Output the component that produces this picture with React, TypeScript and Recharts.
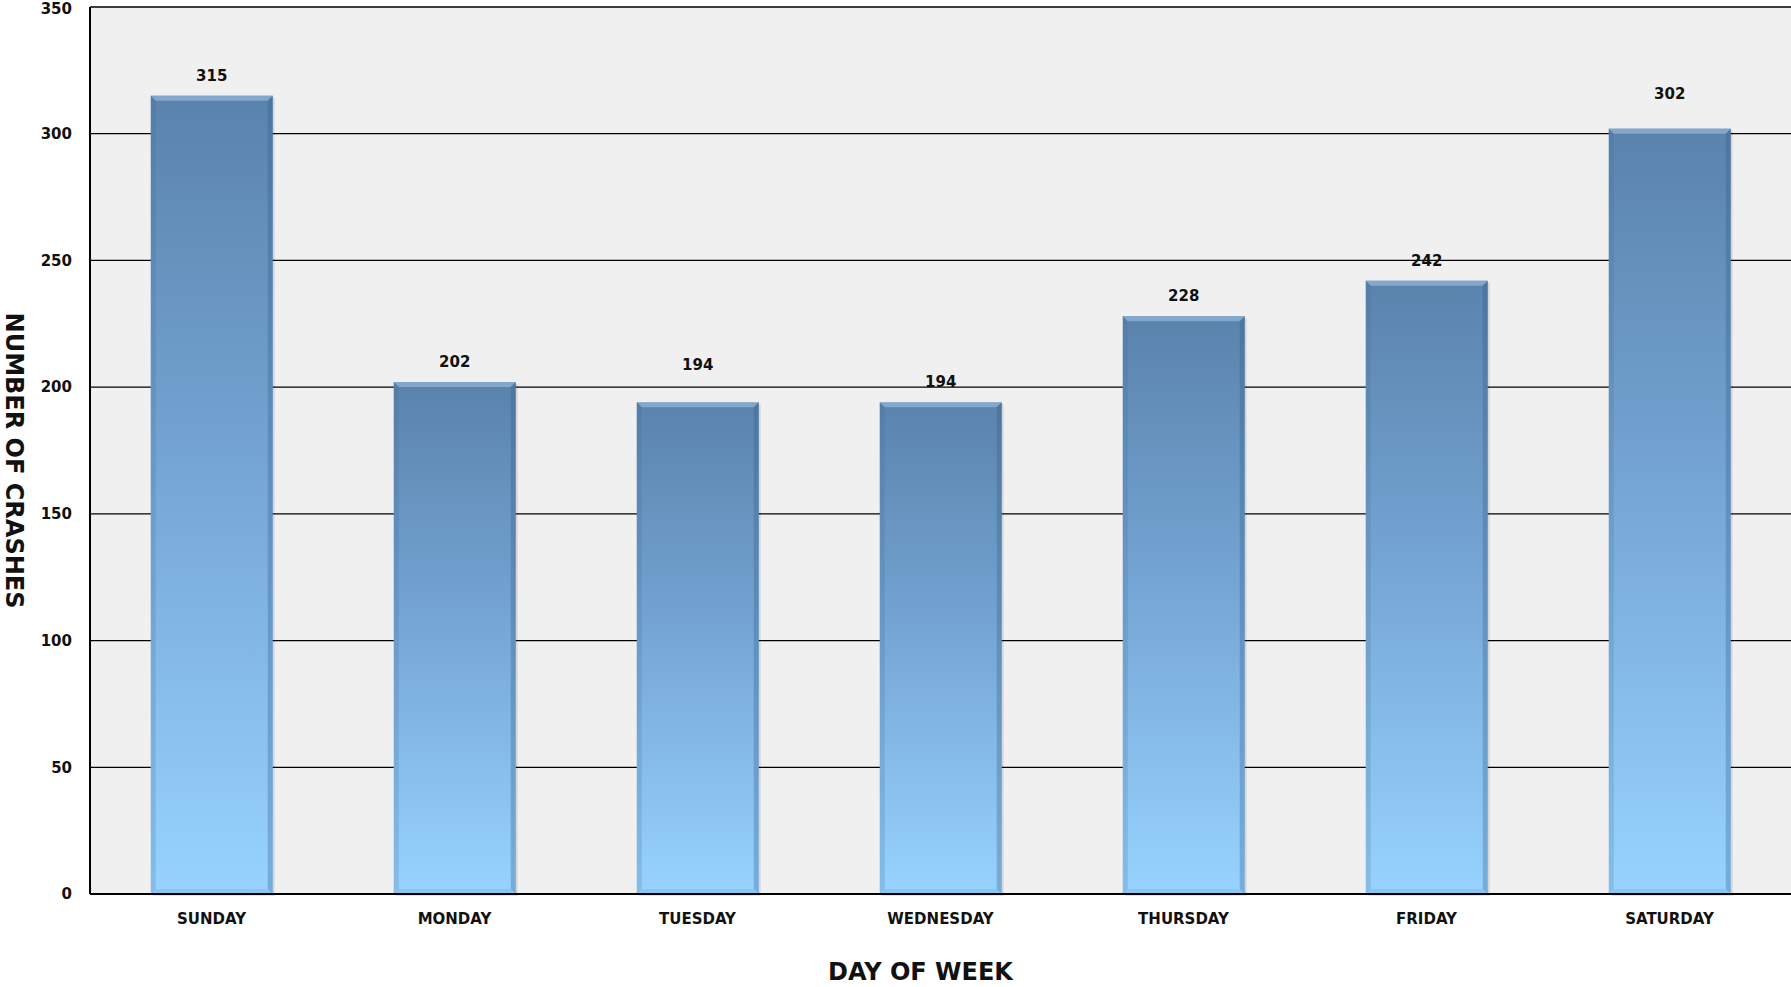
import React from "react";
import { BarChart, Bar, XAxis, YAxis, CartesianGrid, LabelList, Label } from "recharts";

const days = ["SUNDAY", "MONDAY", "TUESDAY", "WEDNESDAY", "THURSDAY", "FRIDAY", "SATURDAY"];
const crashes = [315, 202, 194, 194, 228, 242, 302];
const yTicks = [0, 50, 100, 150, 200, 250, 300, 350];

const data = days.map((day, i) => ({ day, crashes: crashes[i] }));

// excel placed a couple of the value labels higher than the rest
const labelLift = [0, 0, 17, 0, 0, 0, 15];

const FONT = "'DejaVu Sans', sans-serif";

// bar with a soft bevel, like the old office 3d style
function BevelBar(props: any) {
  const { x, y, width, height } = props;
  if (!height || height <= 0) return null;
  const b = 5;
  return (
    <g>
      <rect x={x + 2} y={y + 2} width={width} height={height} fill="#000" opacity={0.1} />
      <rect x={x} y={y} width={width} height={height} fill="url(#barFill)" />
      <polygon
        points={`${x},${y} ${x + width},${y} ${x + width - b},${y + b} ${x + b},${y + b}`}
        fill="#9dbfe0"
        opacity={0.6}
      />
      <polygon
        points={`${x},${y} ${x + b},${y + b} ${x + b},${y + height - b} ${x},${y + height}`}
        fill="#3d6a96"
        opacity={0.2}
      />
      <polygon
        points={`${x + width},${y} ${x + width - b},${y + b} ${x + width - b},${y + height - b} ${x + width},${y + height}`}
        fill="#2f5a85"
        opacity={0.3}
      />
      <polygon
        points={`${x},${y + height} ${x + b},${y + height - b} ${x + width - b},${y + height - b} ${x + width},${y + height}`}
        fill="#6aa8de"
        opacity={0.3}
      />
    </g>
  );
}

function ValueLabel(props: any) {
  const { x, y, width, value, index } = props;
  const lift = labelLift[index] || 0;
  return (
    <text
      x={x + width / 2}
      y={y - 15 - lift}
      textAnchor="middle"
      fill="#111"
      fontSize={15}
      fontWeight={700}
      fontFamily={FONT}
    >
      {value}
    </text>
  );
}

export default function App() {
  return (
    <div style={{ position: "absolute", left: 0, top: 0, background: "#fff" }}>
      <BarChart
        width={1791}
        height={987}
        data={data}
        margin={{ top: 7, right: 0, bottom: 0, left: 0 }}
        barCategoryGap="25%"
      >
        <defs>
          <linearGradient id="barFill" x1="0" y1="0" x2="0" y2="1">
            <stop offset="0%" stopColor="#5a83ac" />
            <stop offset="45%" stopColor="#74a4d3" />
            <stop offset="100%" stopColor="#97d3fe" />
          </linearGradient>
        </defs>
        <CartesianGrid vertical={false} stroke="#000" strokeWidth={1.3} fill="#f0f0f0" fillOpacity={1} />
        <XAxis
          dataKey="day"
          height={93}
          tickLine={false}
          axisLine={{ stroke: "#000", strokeWidth: 2 }}
          tickMargin={13}
          tick={{ fill: "#111", fontSize: 15, fontWeight: 700, fontFamily: FONT }}
          interval={0}
        >
          <Label
            content={(p: any) => {
              const vb = p.viewBox;
              return (
                <text
                  x={vb.x + vb.width / 2 - 20}
                  y={vb.y + vb.height - 7}
                  textAnchor="middle"
                  fontSize={24}
                  fontWeight={700}
                  fontFamily={FONT}
                  fill="#111"
                >
                  DAY OF WEEK
                </text>
              );
            }}
          />
        </XAxis>
        <YAxis
          width={90}
          domain={[0, 350]}
          ticks={yTicks}
          tickLine={false}
          axisLine={{ stroke: "#000", strokeWidth: 2 }}
          tickMargin={12}
          tick={{ fill: "#111", fontSize: 15, fontWeight: 700, fontFamily: FONT }}
        >
          <Label
            content={(p: any) => {
              const vb = p.viewBox;
              const cy = vb.y + vb.height / 2 + 10;
              return (
                <text
                  x={6}
                  y={cy}
                  transform={`rotate(90, 6, ${cy})`}
                  textAnchor="middle"
                  fontSize={24}
                  fontWeight={700}
                  fontFamily={FONT}
                  fill="#111"
                >
                  NUMBER OF CRASHES
                </text>
              );
            }}
          />
        </YAxis>
        <Bar dataKey="crashes" shape={<BevelBar />} isAnimationActive={false}>
          <LabelList dataKey="crashes" content={<ValueLabel />} />
        </Bar>
      </BarChart>
    </div>
  );
}
